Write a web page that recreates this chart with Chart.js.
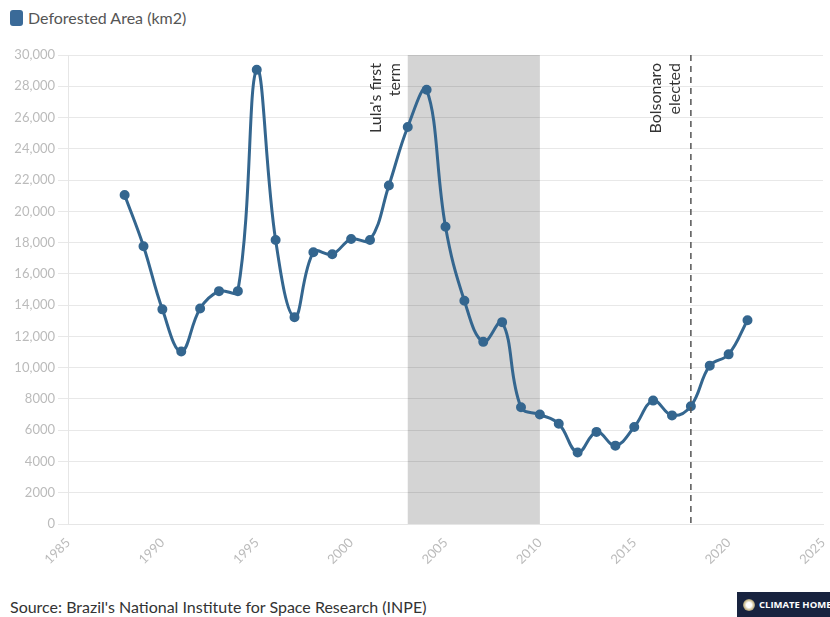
<!DOCTYPE html>
<html>
<head>
<meta charset="utf-8">
<script src="https://cdn.jsdelivr.net/npm/chart.js@4/dist/chart.umd.min.js"></script>
<style>
  body { margin: 0; background: #fff; font-family: Lato, "Open Sans", sans-serif; }
  .wrap { position: relative; width: 830px; height: 617px; overflow: hidden; }
  .legend { position: absolute; left: 10px; top: 8px; font-size: 16px; color: #555; display: flex; align-items: center; }
  .legend i { display: inline-block; width: 13px; height: 16px; border-radius: 3px; background: #3a6a98; margin-right: 5px; }
  .box { position: absolute; left: 0; top: 0; width: 830px; height: 572px; }
  .source { position: absolute; left: 10px; top: 597px; font-size: 16px; color: #333; }
  .logo { position: absolute; left: 737px; top: 592px; width: 93px; height: 25px; background: #18233f;
          color: #fff; font: bold 9.5px "Open Sans", sans-serif; display: flex; align-items: center; white-space: nowrap; }
  .logo b { display: inline-block; width: 12px; height: 12px; border-radius: 50%; margin: 0 4px 0 6px; flex: none;
            background: radial-gradient(circle, #fff 30%, #c9b98a 60%, #18233f 100%); }
</style>
</head>
<body>
<div class="wrap">
  <div class="legend"><i></i>Deforested Area (km2)</div>
  <div class="box"><canvas id="c"></canvas></div>
  <div class="source">Source: Brazil's National Institute for Space Research (INPE)</div>
  <div class="logo"><b></b>CLIMATE HOME</div>
</div>
<script>
// Deforested area per year (PRODES)
const years = [1988, 1989, 1990, 1991, 1992, 1993, 1994, 1995, 1996, 1997, 1998, 1999, 2000,
  2001, 2002, 2003, 2004, 2005, 2006, 2007, 2008, 2009, 2010, 2011, 2012, 2013, 2014, 2015,
  2016, 2017, 2018, 2019, 2020, 2021];
const deforested = [21050, 17770, 13730, 11030, 13786, 14896, 14896, 29059, 18161, 13227, 17383,
  17259, 18226, 18165, 21651, 25396, 27772, 19014, 14286, 11651, 12911, 7464, 7000, 6418, 4571,
  5891, 5012, 6207, 7893, 6947, 7536, 10129, 10851, 13038];

const lulaTerm = [2003, 2010];
const lulaLabel = ["Lula's first", "term"];
const bolsonaroYear = 2018;
const bolsonaroLabel = ["Bolsonaro", "elected"];

const lineColor = '#34668f';

const bands = {
  id: 'bands',
  beforeDraw(chart) {
    const { ctx, chartArea: a, scales: { x } } = chart;
    const x0 = x.getPixelForValue(lulaTerm[0]), x1 = x.getPixelForValue(lulaTerm[1]);
    ctx.save();
    ctx.fillStyle = '#d4d4d4';
    ctx.fillRect(x0, a.top, x1 - x0, a.bottom - a.top);
    ctx.restore();
  },
  afterDatasetsDraw(chart) {
    const { ctx, chartArea: a, scales: { x } } = chart;
    const bx = x.getPixelForValue(bolsonaroYear);
    ctx.save();
    ctx.strokeStyle = '#555';
    ctx.lineWidth = 1.5;
    ctx.setLineDash([6, 5]);
    ctx.beginPath();
    ctx.moveTo(bx, a.top);
    ctx.lineTo(bx, a.bottom);
    ctx.stroke();
    ctx.setLineDash([]);

    ctx.fillStyle = '#333';
    ctx.font = '16px Lato, sans-serif';
    ctx.textAlign = 'right';
    ctx.textBaseline = 'alphabetic';
    const drawLabel = (lines, rightX) => {
      lines.forEach((t, i) => {
        const lx = rightX - (lines.length - 1 - i) * 19;
        ctx.save();
        ctx.translate(lx, a.top + 8);
        ctx.rotate(-Math.PI / 2);
        ctx.fillText(t, 0, 0);
        ctx.restore();
      });
    };
    drawLabel(lulaLabel, x.getPixelForValue(lulaTerm[0]) - 8);
    drawLabel(bolsonaroLabel, bx - 11);
    ctx.restore();
  }
};

new Chart(document.getElementById('c'), {
  type: 'line',
  data: {
    labels: years,
    datasets: [{
      label: 'Deforested Area (km2)',
      data: years.map((y, i) => ({ x: y, y: deforested[i] })),
      borderColor: lineColor,
      backgroundColor: lineColor,
      borderWidth: 3,
      pointRadius: 3.5,
      pointHoverRadius: 3.5,
      tension: 0.4
    }]
  },
  options: {
    responsive: true,
    maintainAspectRatio: false,
    animation: false,
    layout: { padding: { top: 55, right: 7, left: 0, bottom: 0 } },
    plugins: { legend: { display: false }, tooltip: { enabled: false } },
    scales: {
      x: {
        type: 'linear',
        min: 1985,
        max: 2025,
        grid: { display: false },
        border: { display: true, color: '#e6e6e6', width: 1 },
        ticks: {
          stepSize: 5,
          minRotation: 45,
          maxRotation: 45,
          color: '#bbb',
          font: { family: 'Lato', size: 13 },
          callback: v => String(v)
        },
        afterFit: s => { s.height = 48; s.paddingRight = 0; s.paddingLeft = 0; }
      },
      y: {
        min: 0,
        max: 30000,
        grid: { color: 'rgba(0,0,0,0.09)', tickLength: 10, tickColor: 'rgba(0,0,0,0.09)' },
        border: { display: true, color: '#e6e6e6' },
        ticks: {
          stepSize: 2000,
          padding: 3,
          color: '#bbb',
          font: { family: 'Lato', size: 13 },
          callback: v => v >= 10000 ? v.toLocaleString('en-US') : String(v)
        },
        afterFit: s => { s.width = 68; }
      }
    }
  },
  plugins: [bands]
});
</script>
</body>
</html>
